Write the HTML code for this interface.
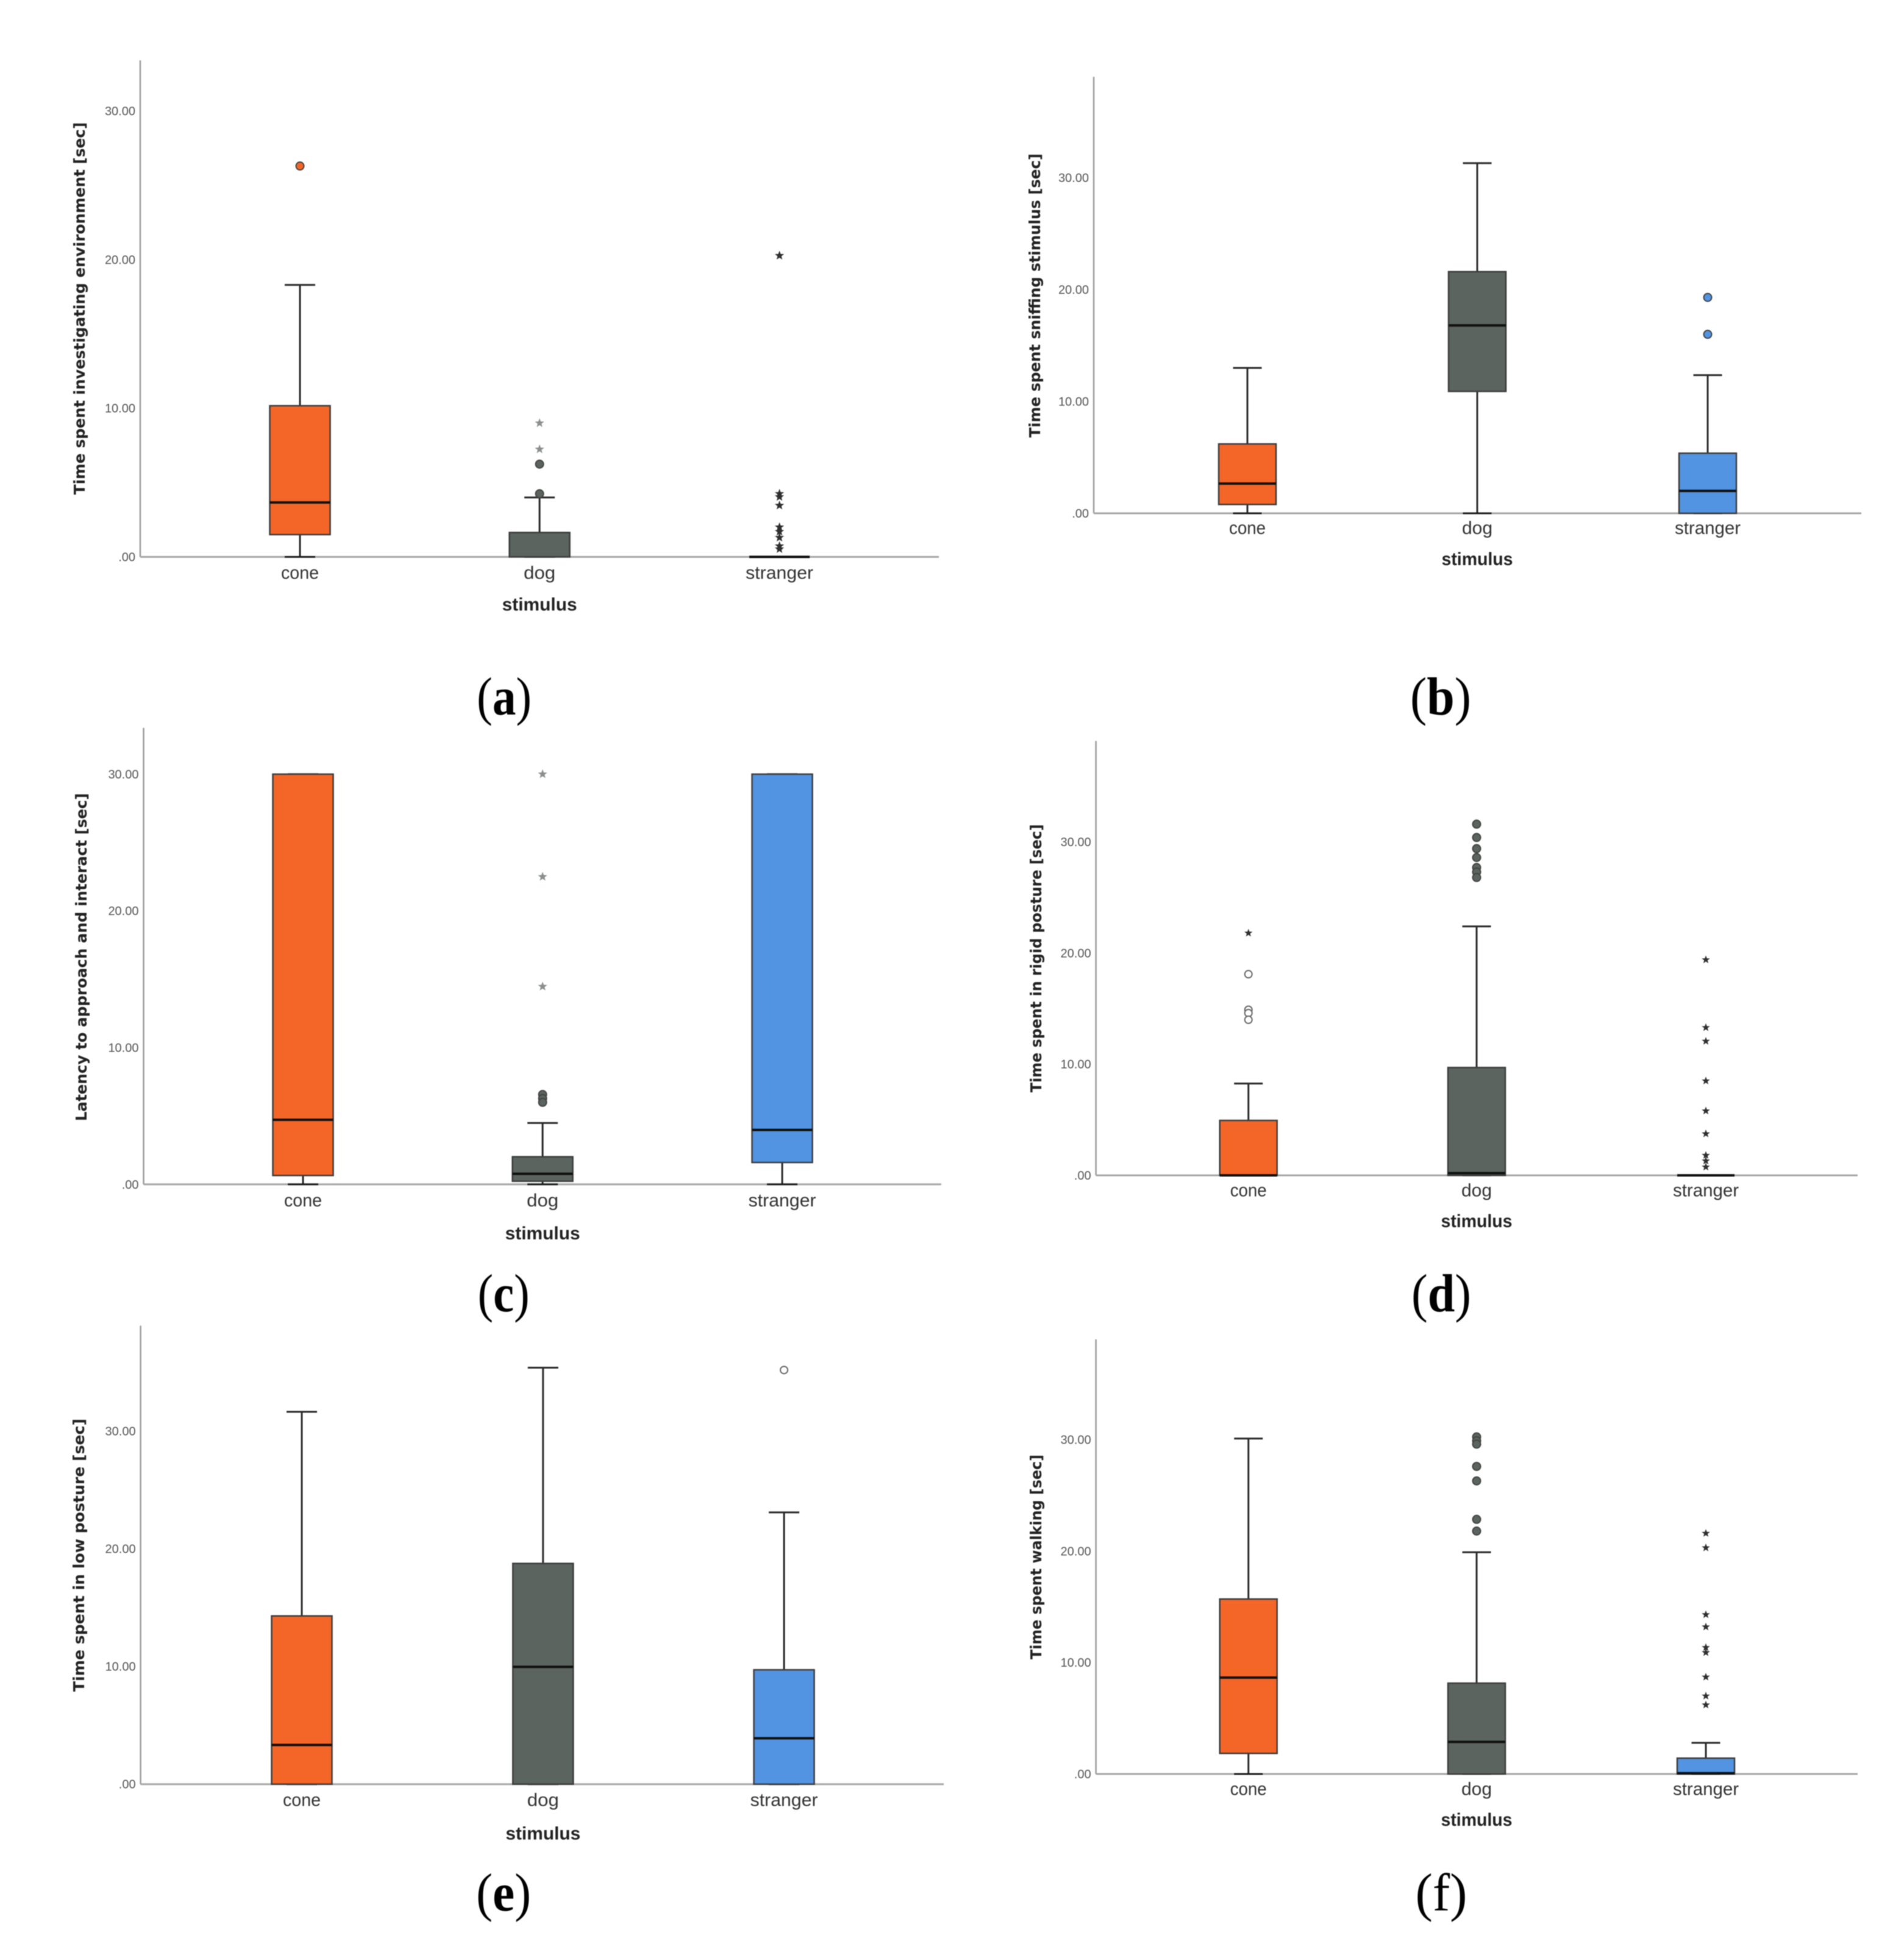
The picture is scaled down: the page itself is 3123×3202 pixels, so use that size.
<!DOCTYPE html>
<html lang="en">
<head>
<meta charset="utf-8">
<title>Stimulus box plots</title>
<style>
html,body{margin:0;padding:0;background:#fff;}
svg{display:block;filter:blur(0.7px);}
</style>
</head>
<body>
<svg id="figure" xmlns="http://www.w3.org/2000/svg" width="3123" height="3202" viewBox="0 0 3123 3202"></svg>
<script>
// Shared labels
const categories = ["cone", "dog", "stranger"];
const tickValues = [0, 10, 20, 30];
const tickLabels = [".00", "10.00", "20.00", "30.00"];
const xAxisTitle = "stimulus";

// Panel (a) - the dog median cannot be read in the picture, so it is null and not drawn
const aQ1 = [1.5, 0, 0];
const aMedian = [3.66, null, 0];
const aQ3 = [10.17, 1.64, 0];
const aWhiskerLow = [0, 0, 0];
const aWhiskerHigh = [18.3, 4.0, 0];
const aCircles = [[26.3], [6.24, 4.25], []];
const aStars = [[], [9.0, 7.24], [20.27, 4.25, 4.04, 3.46, 2.0, 1.7, 1.3, 0.73, 0.53]];

// Panel (b)
const bQ1 = [0.79, 10.9, 0];
const bMedian = [2.66, 16.8, 2.0];
const bQ3 = [6.2, 21.6, 5.37];
const bWhiskerLow = [0, 0, 0];
const bWhiskerHigh = [13.0, 31.3, 12.35];
const bCircles = [[], [], [19.3, 16.0]];
const bStars = [[], [], []];

// Panel (c)
const cQ1 = [0.65, 0.23, 1.6];
const cMedian = [4.72, 0.77, 3.98];
const cQ3 = [30, 2.02, 30];
const cWhiskerLow = [0, 0, 0];
const cWhiskerHigh = [30, 4.49, 30];
const cCircles = [[], [6.57, 6.28, 6.0], []];
const cStars = [[], [30, 22.5, 14.47], []];

// Panel (d)
const dQ1 = [0, 0, 0];
const dMedian = [0, 0.2, 0];
const dQ3 = [4.94, 9.7, 0];
const dWhiskerLow = [0, 0, 0];
const dWhiskerHigh = [8.26, 22.4, 0];
const dCircles = [[], [31.6, 30.4, 29.4, 28.6, 27.7, 27.3, 26.8], []];
const dOpenCircles = [[18.1, 14.9, 14.6, 14.0], [], []];
const dStars = [[21.8], [], [19.4, 13.3, 12.07, 8.5, 5.8, 3.74, 1.8, 1.3, 0.75]];

// Panel (e)
const eQ1 = [0, 0, 0];
const eMedian = [3.33, 9.97, 3.9];
const eQ3 = [14.3, 18.76, 9.72];
const eWhiskerLow = [0, 0, 0];
const eWhiskerHigh = [31.65, 35.4, 23.1];
const eOpenCircles = [[], [], [35.2]];

// Panel (f)
const fQ1 = [1.85, 0, 0];
const fMedian = [8.65, 2.88, 0.07];
const fQ3 = [15.7, 8.15, 1.42];
const fWhiskerLow = [0, 0, 0];
const fWhiskerHigh = [30.1, 19.9, 2.8];
const fCircles = [[], [30.25, 29.9, 29.6, 27.6, 26.3, 22.85, 21.8], []];
const fStars = [[], [], [21.6, 20.3, 14.3, 13.2, 11.35, 10.9, 8.7, 7.0, 6.2]];

const fills = ["#F46628", "#5B645E", "#5294E2"];
const NS = "http://www.w3.org/2000/svg";
const figure = document.getElementById("figure");

function make(tag, attrs, parent) {
  const node = document.createElementNS(NS, tag);
  for (const key in attrs) node.setAttribute(key, attrs[key]);
  parent.appendChild(node);
  return node;
}

function starPoints(cx, cy, outer) {
  const inner = outer * 0.42;
  const pts = [];
  for (let i = 0; i < 10; i++) {
    const r = i % 2 === 0 ? outer : inner;
    const a = -Math.PI / 2 + i * Math.PI / 5;
    pts.push((cx + r * Math.cos(a)).toFixed(1) + "," + (cy + r * Math.sin(a)).toFixed(1));
  }
  return pts.join(" ");
}

function drawPanel(p) {
  const y = v => p.baseY - v * p.unit;
  const x = i => p.catX[i];
  const g = make("g", {}, figure);
  
  

  const yAxis = make("line", {x1: p.axisX, x2: p.axisX, y1: p.topY, y2: p.baseY, stroke: "#9a9a9a", "stroke-width": 2.5}, g);
  
  

  const xAxis = make("line", {x1: p.axisX, x2: p.rightX, y1: p.baseY, y2: p.baseY, stroke: "#a6a6a6", "stroke-width": 3}, g);
  
  

  categories.forEach((cat, i) => {
    const cx = x(i);
    const whisker = make("line", {x1: cx, x2: cx, y1: y(p.high[i]), y2: y(p.low[i]), stroke: "#2a2a2a", "stroke-width": 3}, g);
    
    

    const capLow = make("line", {x1: cx - p.capW / 2, x2: cx + p.capW / 2, y1: y(p.low[i]), y2: y(p.low[i]), stroke: "#1c1c1c", "stroke-width": 3}, g);
    
    

    const capHigh = make("line", {x1: cx - p.capW / 2, x2: cx + p.capW / 2, y1: y(p.high[i]), y2: y(p.high[i]), stroke: "#2a2a2a", "stroke-width": 3}, g);
    
    

    const box = make("rect", {x: cx - p.boxW / 2, y: y(p.q3[i]), width: p.boxW, height: Math.max(0, y(p.q1[i]) - y(p.q3[i])), fill: fills[i], stroke: "#3d3d3d", "stroke-width": 2.5}, g);
    
    

    if (p.median[i] !== null) {
      const median = make("line", {x1: cx - p.boxW / 2, x2: cx + p.boxW / 2, y1: y(p.median[i]), y2: y(p.median[i]), stroke: "#111", "stroke-width": 4}, g);
      
      
    }

    (p.circles ? p.circles[i] : []).forEach(v => {
      const dot = make("circle", {cx: cx, cy: y(v), r: 6.5, fill: fills[i], stroke: "#444", "stroke-width": 2}, g);
      
      
    });

    (p.openCircles ? p.openCircles[i] : []).forEach(v => {
      const ring = make("circle", {cx: cx, cy: y(v), r: 6, fill: "#fff", stroke: "#666", "stroke-width": 2}, g);
      
      
    });

    (p.stars ? p.stars[i] : []).forEach(v => {
      const star = make("polygon", {points: starPoints(cx, y(v), p.starR), fill: p.starFill && p.starFill[i] ? p.starFill[i] : "#2f2f2f"}, g);
      
      
    });

    const catLabel = make("text", {x: cx, y: p.baseY + p.labelDy, "text-anchor": "middle", "font-family": '"Liberation Sans", sans-serif', "font-size": 30, fill: "#333", textLength: p.catLen[i], lengthAdjust: "spacingAndGlyphs"}, g);
    catLabel.textContent = cat;
    
    
  });

  tickValues.forEach((v, i) => {
    const tick = make("text", {x: p.axisX - 8, y: y(v) + 7, "text-anchor": "end", "font-family": '"Liberation Sans", sans-serif', "font-size": 20, fill: "#555"}, g);
    tick.textContent = tickLabels[i];
    
    
  });

  const yTitle = make("text", {x: 0, y: 0, transform: "translate(" + p.titleX + " " + p.titleY + ") rotate(-90)", "text-anchor": "middle", "font-family": '"DejaVu Sans", sans-serif', "font-weight": "bold", "font-size": 25, fill: "#222", textLength: p.titleLen, lengthAdjust: "spacingAndGlyphs"}, g);
  yTitle.textContent = p.title;
  
  

  const xTitle = make("text", {x: x(1), y: p.baseY + p.xTitleDy, "text-anchor": "middle", "font-family": '"Liberation Sans", sans-serif', "font-weight": "bold", "font-size": 30, fill: "#222", textLength: p.xTitleLen, lengthAdjust: "spacingAndGlyphs"}, g);
  xTitle.textContent = xAxisTitle;
  
  

  const tag = make("text", {x: p.tagX, y: p.tagY, "text-anchor": "middle", "font-family": '"Liberation Serif", serif', "font-size": 88, fill: "#000", textLength: p.tagLen, lengthAdjust: "spacingAndGlyphs"}, g);
  
  
  make("tspan", {}, tag).textContent = "(";
  make("tspan", {"font-weight": p.tagWeight || "bold"}, tag).textContent = p.id;
  make("tspan", {}, tag).textContent = ")";
}

const wideLen = [62, 52, 111];
const narrowLen = [60, 50, 108];

drawPanel({id: "a", title: "Time spent investigating environment [sec]", axisX: 230, rightX: 1540, topY: 99, baseY: 913.5, unit: 24.38, catX: [492, 885, 1278.5], boxW: 99, capW: 50, starR: 8, catLen: wideLen, labelDy: 36, xTitleDy: 88, xTitleLen: 123, titleX: 139, titleY: 506, titleLen: 611, tagX: 827, tagY: 1172, tagLen: 90, q1: aQ1, median: aMedian, q3: aQ3, low: aWhiskerLow, high: aWhiskerHigh, circles: aCircles, stars: aStars, starFill: [null, "#8a8f8c", null]});

drawPanel({id: "b", title: "Time spent sniffing stimulus [sec]", axisX: 1794, rightX: 3053, topY: 126, baseY: 842, unit: 18.35, catX: [2046, 2423, 2801], boxW: 94, capW: 47, starR: 7, catLen: narrowLen, labelDy: 34, xTitleDy: 85, xTitleLen: 117, titleX: 1706, titleY: 484.7, titleLen: 466, tagX: 2363, tagY: 1172, tagLen: 100, q1: bQ1, median: bMedian, q3: bQ3, low: bWhiskerLow, high: bWhiskerHigh, circles: bCircles, stars: bStars});

drawPanel({id: "c", title: "Latency to approach and interact [sec]", axisX: 235.5, rightX: 1544, topY: 1194, baseY: 1942.8, unit: 22.43, catX: [497, 890, 1283], boxW: 99, capW: 50, starR: 8, catLen: wideLen, labelDy: 36, xTitleDy: 90, xTitleLen: 123, titleX: 142, titleY: 1570, titleLen: 538, tagX: 826, tagY: 2151, tagLen: 85, q1: cQ1, median: cMedian, q3: cQ3, low: cWhiskerLow, high: cWhiskerHigh, circles: cCircles, stars: cStars, starFill: [null, "#8a8f8c", null]});

drawPanel({id: "d", title: "Time spent in rigid posture [sec]", axisX: 1797.6, rightX: 3047, topY: 1215.6, baseY: 1928, unit: 18.23, catX: [2047.7, 2422, 2798], boxW: 94, capW: 47, starR: 7, catLen: narrowLen, labelDy: 34.5, xTitleDy: 85, xTitleLen: 117, titleX: 1708, titleY: 1572, titleLen: 440, tagX: 2364, tagY: 2151, tagLen: 98, q1: dQ1, median: dMedian, q3: dQ3, low: dWhiskerLow, high: dWhiskerHigh, circles: dCircles, openCircles: dOpenCircles, stars: dStars});

drawPanel({id: "e", title: "Time spent in low posture [sec]", axisX: 230.6, rightX: 1548, topY: 2174.6, baseY: 2926.7, unit: 19.3, catX: [495, 890.7, 1286], boxW: 99, capW: 50, starR: 8, catLen: wideLen, labelDy: 36, xTitleDy: 91, xTitleLen: 123, titleX: 138, titleY: 2551, titleLen: 448, tagX: 826, tagY: 3134, tagLen: 90, q1: eQ1, median: eMedian, q3: eQ3, low: eWhiskerLow, high: eWhiskerHigh, openCircles: eOpenCircles});

drawPanel({id: "f", title: "Time spent walking [sec]", axisX: 1797.6, rightX: 3047, topY: 2197, baseY: 2910, unit: 18.28, catX: [2047.7, 2422, 2798], boxW: 94, capW: 47, starR: 7, catLen: narrowLen, labelDy: 34.5, xTitleDy: 85, xTitleLen: 117, titleX: 1708, titleY: 2554, titleLen: 336, tagX: 2364, tagY: 3134, tagLen: 85, tagWeight: "normal", q1: fQ1, median: fMedian, q3: fQ3, low: fWhiskerLow, high: fWhiskerHigh, circles: fCircles, stars: fStars});
</script>
</body>
</html>
